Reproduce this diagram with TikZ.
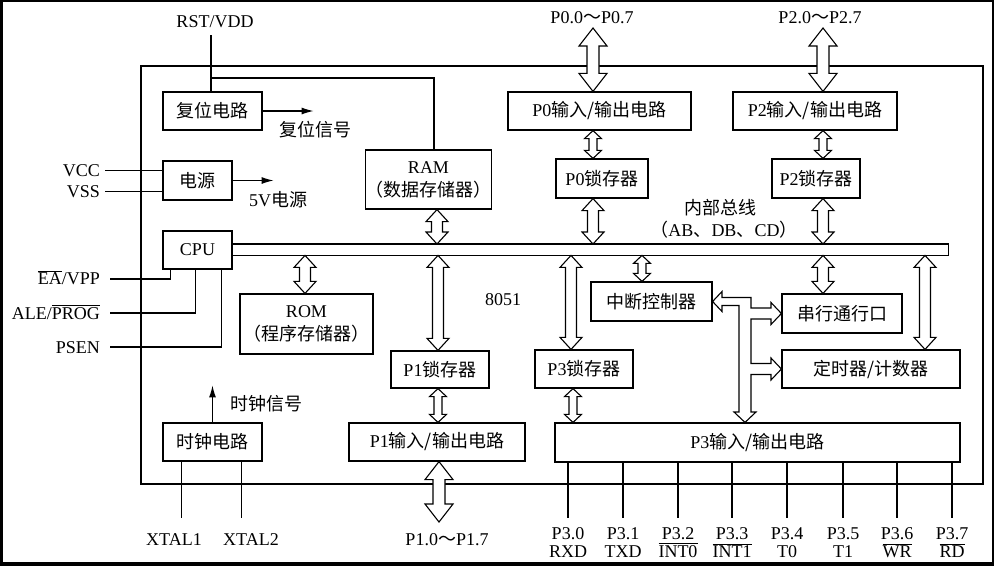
\documentclass[tikz,border=0pt]{standalone}
\usepackage{fontspec}
\setmainfont{Liberation Serif}
\newfontfamily\cjk{Noto Sans CJK SC}
\usetikzlibrary{calc,arrows.meta}
\newcommand\ovl[1]{\ensuremath{\overline{\mbox{#1}}}}
\newcommand\dblarrow[5]{%
  \coordinate (dA) at #1; \coordinate (dB) at #2;
  \draw[hollow] (dA) -- ($(dA)!#5!(dB)!#4!90:(dB)$) -- ($(dA)!#5!(dB)!#3!90:(dB)$)
    -- ($(dB)!#5!(dA)!#3!-90:(dA)$) -- ($(dB)!#5!(dA)!#4!-90:(dA)$) -- (dB)
    -- ($(dB)!#5!(dA)!#4!90:(dA)$) -- ($(dB)!#5!(dA)!#3!90:(dA)$)
    -- ($(dA)!#5!(dB)!#3!-90:(dB)$) -- ($(dA)!#5!(dB)!#4!-90:(dB)$) -- cycle;}
\newcommand\arrBig[2]{\dblarrow{#1}{#2}{6pt}{14pt}{18pt}}
\newcommand\arrMid[2]{\dblarrow{#1}{#2}{5.5pt}{11pt}{12pt}}
\newcommand\arrSmall[2]{\dblarrow{#1}{#2}{4pt}{8.5pt}{8pt}}
\begin{document}
\begin{tikzpicture}[x=1pt,y=-1pt,
  font=\fontsize{18}{23}\selectfont,
  box/.style={draw, line width=1.2pt, inner sep=0pt, align=center},
  lbl/.style={inner sep=0pt},
  hollow/.style={draw, fill=white, line width=1.1pt, line join=miter},
  wire/.style={line width=1.2pt},
  sig/.style={line width=1.2pt, -{Latex[length=12pt,width=7pt]}}]

\useasboundingbox (0,0) rectangle (994,566);
\fill[black] (0,0) rectangle (994,566);
\fill[white] (3,2) rectangle (992,562);

% chip outline
\node[draw, line width=2pt, minimum width=842pt, minimum height=418pt, inner sep=0pt, anchor=north west] (chip) at (140,65) {};

% boxes
\node[box, minimum width=99pt, minimum height=38pt] (reset) at (212.5,111) {{\cjk 复位电路}};
\node[box, minimum width=69pt, minimum height=39pt] (power) at (197.5,180.5) {{\cjk 电源}};
\node[box, minimum width=69pt, minimum height=38pt] (cpu) at (197.5,250) {CPU};
\node[box, minimum width=123pt, minimum height=59pt] (ram) at (428.5,179.5) {RAM\\{\cjk （数据存储器）}};
\node[box, minimum width=133pt, minimum height=60pt] (rom) at (306.5,324) {ROM\\{\cjk （程序存储器）}};
\node[box, minimum width=98pt, minimum height=37pt] (p1lat) at (440,369.5) {P1{\cjk 锁存器}};
\node[box, minimum width=99pt, minimum height=38pt] (clk) at (212.5,442) {{\cjk 时钟电路}};
\node[box, minimum width=176pt, minimum height=38pt] (p1io) at (437,442) {P1{\cjk 输入/输出电路}};
\node[box, minimum width=183pt, minimum height=38pt] (p0io) at (599.5,111) {P0{\cjk 输入/输出电路}};
\node[box, minimum width=92pt, minimum height=39pt] (p0lat) at (602,178.5) {P0{\cjk 锁存器}};
\node[box, minimum width=164pt, minimum height=38pt] (p2io) at (815,111) {P2{\cjk 输入/输出电路}};
\node[box, minimum width=88pt, minimum height=39pt] (p2lat) at (816,178.5) {P2{\cjk 锁存器}};
\node[box, minimum width=121pt, minimum height=39pt] (intr) at (651.5,301.5) {{\cjk 中断控制器}};
\node[box, minimum width=120pt, minimum height=39pt] (ser) at (842,313.5) {{\cjk 串行通行口}};
\node[box, minimum width=98pt, minimum height=38pt] (p3lat) at (584,369) {P3{\cjk 锁存器}};
\node[box, minimum width=178pt, minimum height=38pt] (tim) at (871,369) {{\cjk 定时器/计数器}};
\node[box, minimum width=405pt, minimum height=39pt] (p3io) at (757.5,442.5) {P3{\cjk 输入/输出电路}};

% internal bus
\node[minimum width=716pt, minimum height=11pt, inner sep=0pt, anchor=north west] (bus) at (232,244) {};
\draw[wire] (bus.north west) -- (bus.north east) -- (bus.south east) -- (bus.south west);

% labels
\node[lbl] (rstlbl) at (215,22) {RST/VDD};
\node[lbl] (rsig) at (315,129.5) {{\cjk 复位信号}};
\node[lbl] (v5) at (278,200) {5V{\cjk 电源}};
\node[lbl, anchor=base east] (vcc) at (100,176) {VCC};
\node[lbl, anchor=base east] (vss) at (100,197) {VSS};
\node[lbl, anchor=base east] (ealbl) at (100,284) {\ovl{EA}/VPP};
\node[lbl, anchor=base east] (alelbl) at (100,319) {ALE/\ovl{PROG}};
\node[lbl, anchor=base east] (psenlbl) at (100,353) {PSEN};
\node[lbl] (lbl8051) at (503,300) {8051};
\node[lbl] (busl1) at (720,207.5) {{\cjk 内部总线}};
\node[lbl] (busl2) at (724,230) {{\cjk （}AB{\cjk 、}DB{\cjk 、}CD{\cjk ）}};
\node[lbl] (csig) at (266,404) {{\cjk 时钟信号}};
\node[lbl, anchor=base] (x1lbl) at (174,545) {XTAL1};
\node[lbl, anchor=base] (x2lbl) at (251,545) {XTAL2};
\node[lbl, anchor=base] (p1lbl) at (447,545) {P1.0{\cjk ～}P1.7};
\node[lbl, anchor=base] (p0lbl) at (592,23) {P0.0{\cjk ～}P0.7};
\node[lbl, anchor=base] (p2lbl) at (820,23) {P2.0{\cjk ～}P2.7};

% reset wiring
\coordinate (rstj) at (211,78);
\draw[wire] (rstj |- 0,35) -- (rstj |- reset.north);
\draw[wire] (rstj) -| ($(ram.north)+(5.5,0)$);
\draw[sig] (reset.east) -- ++(51,0);
\draw[sig] (power.east) -- ++(41,0);
\draw[sig] (clk.north) -- ++(0,-37);

% power wiring
\draw[wire] ([xshift=5pt]vcc.east) -- (vcc.east -| power.west);
\draw[wire] ([xshift=5pt]vss.east) -- (vss.east -| power.west);

% CPU control pins
\coordinate (ea) at (110,279);
\coordinate (ale) at (110,313);
\coordinate (psen) at (110,347);
\draw[wire] (ea) -| ($(cpu.south west)+(8,0)$);
\draw[wire] (ale) -| ($(cpu.south west)+(33,0)$);
\draw[wire] (psen) -| ($(cpu.south west)+(59,0)$);

% crystal pins
\draw[wire] ($(clk.south west)+(19,0)$) -- ++(0,56);
\draw[wire] ($(clk.south west)+(79,0)$) -- ++(0,56);

% P3 pins
\foreach \px/\ta/\tb [count=\i] in {568/P3.0/RXD, 623/P3.1/TXD, 678/P3.2/\ovl{INT0}, 732/P3.3/\ovl{INT1}, 787/P3.4/T0, 843/P3.5/T1, 897/P3.6/\ovl{WR}, 952/P3.7/\ovl{RD}}{
  \node[lbl, anchor=base] (pa\i) at (\px,539) {\ta};
  \node[lbl, anchor=base] (pb\i) at (\px,557) {\tb};
  \draw[wire] (p3io.south -| pa\i) -- ++(0,55);
}

% x positions of hollow arrows
\coordinate (xP0) at (593,0);
\coordinate (xP2) at (823,0);
\coordinate (xRAM) at (437,0);
\coordinate (xP1) at (438,0);
\coordinate (xROM) at (305,0);
\coordinate (xP3L) at (571,0);
\coordinate (xP3S) at (573,0);
\coordinate (xINT) at (642,0);
\coordinate (xTIM) at (925,0);
\coordinate (p0end) at (593,28);
\coordinate (p2end) at (823,28);
\coordinate (p1end) at (439,522);

\arrBig{(p0end)}{(p0io.north -| xP0)}
\arrSmall{(p0io.south -| xP0)}{(p0lat.north -| xP0)}
\arrMid{(p0lat.south -| xP0)}{(bus.north -| xP0)}
\arrBig{(p2end)}{(p2io.north -| xP2)}
\arrSmall{(p2io.south -| xP2)}{(p2lat.north -| xP2)}
\arrMid{(p2lat.south -| xP2)}{(bus.north -| xP2)}
\arrMid{(ram.south -| xRAM)}{(bus.north -| xRAM)}
\arrMid{(bus.south -| xP1)}{(p1lat.north -| xP1)}
\arrSmall{(p1lat.south -| xP1)}{(p1io.north -| xP1)}
\arrBig{(p1io.south -| p1end)}{(p1end)}
\arrMid{(bus.south -| xROM)}{(rom.north -| xROM)}
\arrMid{(bus.south -| xP3L)}{(p3lat.north -| xP3L)}
\arrSmall{(p3lat.south -| xP3S)}{(p3io.north -| xP3S)}
\arrSmall{(bus.south -| xINT)}{(intr.north -| xINT)}
\arrMid{(bus.south -| xP2)}{(ser.north -| xP2)}
\arrMid{(bus.south -| xTIM)}{(tim.north -| xTIM)}

% tree-shaped hollow arrow: interrupt / serial / timer / P3
\coordinate (xV) at (745,0);
\draw[hollow] (intr.east) -- (722,291.5) -- (722,297.5) -- (751,297.5) -- (751,308)
  -- (771,308) -- (771,302.5) -- (ser.west) -- (771,324.5) -- (771,319) -- (751,319)
  -- (751,363.5) -- (771,363.5) -- (771,358) -- (tim.west) -- (771,380) -- (771,374.5)
  -- (751,374.5) -- (751,412) -- (756,412) -- (p3io.north -| xV) -- (734,412) -- (739,412)
  -- (739,305.5) -- (722,305.5) -- (722,311.5) -- cycle;
\end{tikzpicture}
\end{document}
